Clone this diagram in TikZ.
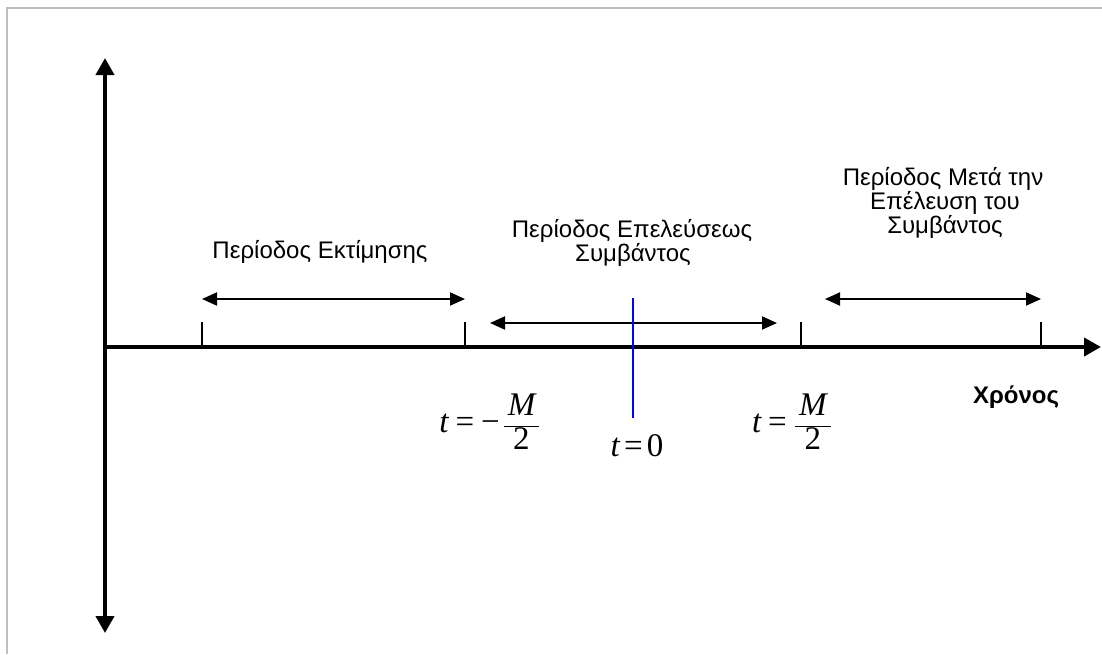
\documentclass[tikz,border=0pt]{standalone}
\usepackage{fontspec}
\setmainfont{Liberation Sans}
\newfontfamily\tmsfam{Liberation Serif}
\usetikzlibrary{arrows.meta}
\newcommand\tmi[1]{\mbox{\tmsfam\itshape #1}}
\newcommand\tmr[1]{\mbox{\tmsfam #1}}
\newcommand\teq{\mathrel{\tmr{=}}}
\tikzset{
  axis/.style={line width=4pt,-{Triangle[length=17pt,width=18pt]}},
  period/.style={line width=2pt,{Triangle[length=15pt,width=13pt]}-{Triangle[length=15pt,width=13pt]}},
  tick/.style={line width=1.5pt},
  lbl/.style={font=\fontsize{24}{24}\selectfont, align=center, inner sep=0pt},
  mth/.style={font=\fontsize{33}{36}\selectfont, inner sep=0pt},
}
\begin{document}
\begin{tikzpicture}[x=1pt,y=-1pt]
\useasboundingbox (0,0) rectangle (1102,654);
% frame
\draw[color=black!25, line width=2pt] (7,654) -- (7,8) -- (1102,8);
% coordinates
\coordinate (vtop) at (105,58);
\coordinate (vbot) at (105,633);
\coordinate (hstart) at (103,347);
\coordinate (hend) at (1101,347);
\coordinate (t1a) at (202,322); \coordinate (t1b) at (202,347);
\coordinate (t2a) at (465,322); \coordinate (t2b) at (465,347);
\coordinate (t3a) at (801,322); \coordinate (t3b) at (801,347);
\coordinate (t4a) at (1041,322); \coordinate (t4b) at (1041,347);
\coordinate (e1a) at (202,299); \coordinate (e1b) at (465,299);
\coordinate (e2a) at (490,323); \coordinate (e2b) at (777,323);
\coordinate (e3a) at (825,299); \coordinate (e3b) at (1041,299);
\coordinate (z0a) at (633,298); \coordinate (z0b) at (633,418);
% axes
\draw[line width=4pt,{Triangle[length=17pt,width=18pt]}-{Triangle[length=17pt,width=18pt]}] (vtop) -- (vbot);
\draw[axis] (hstart) -- (hend);
% ticks
\draw[tick] (t1a) -- (t1b);
\draw[tick] (t2a) -- (t2b);
\draw[tick] (t3a) -- (t3b);
\draw[tick] (t4a) -- (t4b);
% period arrows
\draw[period] (e1a) -- (e1b);
\draw[period] (e2a) -- (e2b);
\draw[period] (e3a) -- (e3b);
% event line
\draw[blue, line width=1.5pt] (z0a) -- (z0b);
% labels
\node[lbl, anchor=base] (est) at (320,258) {Περίοδος Εκτίμησης};
\node[lbl, anchor=base] (evt1) at (632,237) {Περίοδος Επελεύσεως};
\node[lbl, anchor=base] (evt2) at (633,261) {Συμβάντος};
\node[lbl, anchor=base] (post1) at (943,185) {Περίοδος Μετά την};
\node[lbl, anchor=base] (post2) at (945,209) {Επέλευση του};
\node[lbl, anchor=base] (post3) at (945,233) {Συμβάντος};
\node[lbl, font=\fontsize{24}{24}\selectfont\bfseries, anchor=base] (time) at (1016,403) {Χρόνος};
% math
\node[mth] (mneg) at (490,422) {$\tmi{t}\teq\tmr{−}\mskip2mu\displaystyle\frac{\mskip3mu\tmi{M}\mskip3mu}{\tmr{2}}$};
\node[mth, anchor=base] (mzero) at (637,456) {$\tmi{t}\mskip3mu\tmr{=}\mskip3mu\tmr{0}$};
\node[mth] (mpos) at (792,422) {$\tmi{t}\teq\displaystyle\frac{\mskip3mu\tmi{M}\mskip3mu}{\tmr{2}}$};
\end{tikzpicture}
\end{document}
